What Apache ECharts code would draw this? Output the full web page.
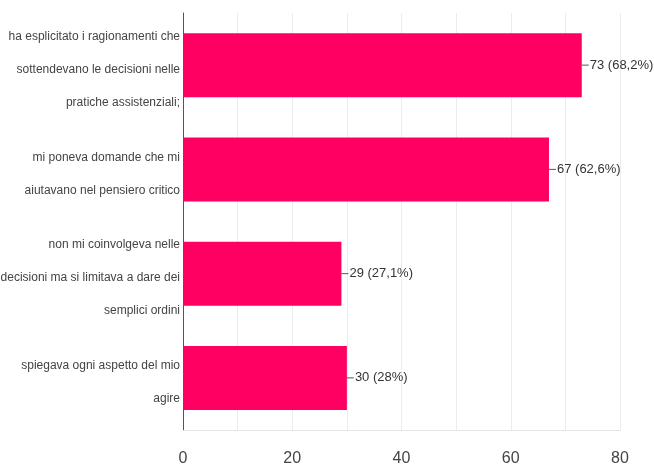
<!DOCTYPE html>
<html>
<head>
<meta charset="utf-8">
<script src="https://cdn.jsdelivr.net/npm/echarts@6/dist/echarts.min.js"></script>
<style>
  html, body { margin: 0; padding: 0; background: #fff; }
  #chart { width: 654px; height: 469px; }
</style>
</head>
<body>
<div id="chart"></div>
<script>
const categories = [
  "ha esplicitato i ragionamenti che\nsottendevano le decisioni nelle\npratiche assistenziali;",
  "mi poneva domande che mi\naiutavano nel pensiero critico",
  "non mi coinvolgeva nelle\ndecisioni ma si limitava a dare dei\nsemplici ordini",
  "spiegava ogni aspetto del mio\nagire",
];
const counts = [73, 67, 29, 30];
const percents = ["68,2%", "62,6%", "27,1%", "28%"];
const xTicks = [0, 20, 40, 60, 80];

const font = "'Liberation Sans Narrow', 'Liberation Sans', Arial, sans-serif";

const chart = echarts.init(document.getElementById("chart"));

chart.setOption({
  animation: false,
  grid: { left: 183, right: 34, top: 13, bottom: 39, containLabel: false, outerBoundsMode: "none" },
  xAxis: {
    type: "value",
    min: xTicks[0],
    max: xTicks[xTicks.length - 1],
    interval: 10,
    axisLine: { show: true, lineStyle: { color: "#e4e4e4" } },
    axisTick: { show: false },
    axisLabel: {
      color: "#444",
      fontFamily: font,
      fontSize: 16,
      margin: 21,
      formatter: (v) => (xTicks.includes(v) ? String(v) : ""),
    },
    splitLine: { show: true, lineStyle: { color: "#ececec" } },
  },
  yAxis: {
    type: "category",
    inverse: true,
    data: categories,
    axisLine: { show: true, lineStyle: { color: "#555" } },
    axisTick: { show: false },
    axisLabel: {
      margin: 3,
      align: "right",
      // small empty first line pushes the block down a few px, like the original
      formatter: (v) => "{s| }\n" + v.split("\n").map((s) => `{a|${s}}`).join("\n"),
      rich: {
        s: { fontSize: 4, lineHeight: 9 },
        a: { color: "#444", fontFamily: font, fontSize: 12, lineHeight: 33, align: "right" },
      },
    },
  },
  series: [
    {
      type: "bar",
      data: counts,
      barWidth: 64,
      itemStyle: { color: "#ff0062" },
      label: {
        show: true,
        position: "right",
        distance: 0,
        formatter: (p) => `{l|}{t|${p.value} (${percents[p.dataIndex]})}`,
        rich: {
          l: { width: 7, height: 1, backgroundColor: "#555" },
          t: { color: "#333", fontFamily: font, fontSize: 13, padding: [0, 0, 0, 1] },
        },
      },
    },
  ],
});
</script>
</body>
</html>
